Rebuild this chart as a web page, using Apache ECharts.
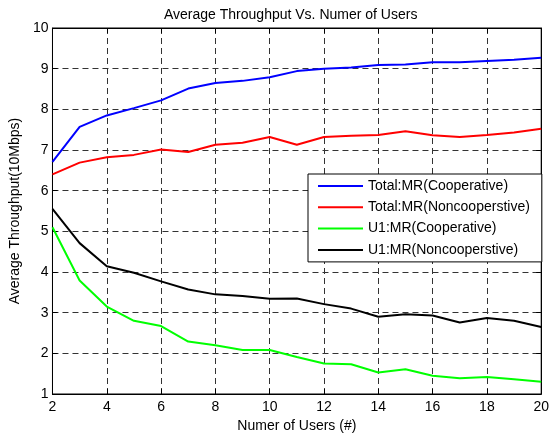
<!DOCTYPE html>
<html>
<head>
<meta charset="utf-8">
<script src="https://cdn.jsdelivr.net/npm/echarts@6/dist/echarts.min.js"></script>
<style>
  html, body { margin: 0; padding: 0; background: #fff; }
  #chart { width: 552px; height: 438px; }
</style>
</head>
<body>
<div id="chart"></div>
<script>
const users = [2, 3, 4, 5, 6, 7, 8, 9, 10, 11, 12, 13, 14, 15, 16, 17, 18, 19, 20]
const totalCoop = [6.71, 7.57, 7.85, 8.03, 8.22, 8.51, 8.65, 8.70, 8.79, 8.94, 9.00, 9.03, 9.09, 9.10, 9.16, 9.16, 9.19, 9.22, 9.27]
const totalNoncoop = [6.40, 6.69, 6.82, 6.88, 7.01, 6.95, 7.13, 7.18, 7.32, 7.13, 7.32, 7.35, 7.37, 7.46, 7.36, 7.32, 7.37, 7.43, 7.52]
const u1Coop = [5.10, 3.79, 3.15, 2.80, 2.67, 2.29, 2.20, 2.08, 2.08, 1.91, 1.75, 1.73, 1.53, 1.61, 1.45, 1.39, 1.42, 1.36, 1.30]
const u1Noncoop = [5.55, 4.71, 4.14, 3.98, 3.77, 3.57, 3.45, 3.41, 3.34, 3.35, 3.21, 3.10, 2.90, 2.96, 2.93, 2.76, 2.87, 2.80, 2.65]
const seriesNames = ['Total:MR(Cooperative)', 'Total:MR(Noncooperstive)', 'U1:MR(Cooperative)', 'U1:MR(Noncooperstive)']
const seriesColors = ['#0000ff', '#ff0000', '#00ff00', '#000000']

const font = 'Liberation Sans, Arial, sans-serif'
const chart = echarts.init(document.getElementById('chart'))

const pairs = vals => users.map((u, i) => [u, vals[i]])
const gridDash = { show: true, lineStyle: { color: '#333', type: [6, 4], width: 1 } }

const option = {
  animation: false,
  title: {
    text: 'Average Throughput Vs. Numer of Users',
    left: 159,
    top: 3,
    textStyle: { fontFamily: font, fontSize: 14, fontWeight: 'normal', color: '#000' }
  },
  grid: { left: 51, right: 8, top: 28, bottom: 43, show: true, borderColor: '#000', borderWidth: 1 },
  legend: {
    orient: 'vertical',
    left: 308,
    top: 174,
    padding: [5, 12, 5, 10],
    itemGap: 7.3,
    itemWidth: 45,
    itemHeight: 2,
    icon: 'rect',
    backgroundColor: '#fff',
    borderColor: '#000',
    borderWidth: 1,
    textStyle: { fontFamily: font, fontSize: 14, color: '#000' },
    data: seriesNames
  },
  xAxis: [{
    type: 'value',
    min: 2,
    max: 20,
    interval: 2,
    name: 'Numer of Users (#)',
    nameLocation: 'middle',
    nameGap: 25,
    nameTextStyle: { fontFamily: font, fontSize: 14, color: '#000' },
    axisLine: { lineStyle: { color: '#000' } },
    axisTick: { inside: true, length: 5, lineStyle: { color: '#000' } },
    axisLabel: { fontFamily: font, fontSize: 14, color: '#000', margin: 6 },
    splitLine: gridDash
  }, {
    type: 'value',
    position: 'top',
    min: 2,
    max: 20,
    interval: 2,
    axisLine: { show: true, lineStyle: { color: '#000' } },
    axisTick: { show: true, inside: true, length: 5, lineStyle: { color: '#000' } },
    axisLabel: { show: false },
    splitLine: { show: false }
  }],
  yAxis: [{
    type: 'value',
    min: 1,
    max: 10,
    interval: 1,
    name: 'Average Throughput(10Mbps)',
    nameLocation: 'middle',
    nameGap: 30,
    nameTextStyle: { fontFamily: font, fontSize: 14, color: '#000' },
    axisLine: { show: true, lineStyle: { color: '#000' } },
    axisTick: { show: true, inside: true, length: 5, lineStyle: { color: '#000' } },
    axisLabel: { fontFamily: font, fontSize: 14, color: '#000', margin: 4 },
    splitLine: gridDash
  }, {
    type: 'value',
    position: 'right',
    min: 1,
    max: 10,
    interval: 1,
    axisLine: { show: true, lineStyle: { color: '#000' } },
    axisTick: { show: true, inside: true, length: 5, lineStyle: { color: '#000' } },
    axisLabel: { show: false },
    splitLine: { show: false }
  }],
  series: [totalCoop, totalNoncoop, u1Coop, u1Noncoop].map((vals, i) => ({
    name: seriesNames[i],
    type: 'line',
    data: pairs(vals),
    symbol: 'none',
    lineStyle: { color: seriesColors[i], width: 2 },
    itemStyle: { color: seriesColors[i] }
  }))
}

chart.setOption(option)
</script>
</body>
</html>
